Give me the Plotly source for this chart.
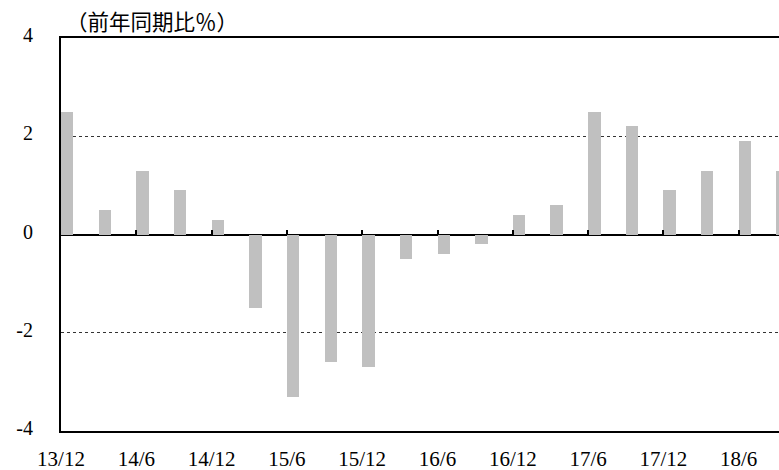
import plotly.graph_objects as go

# ---- data ----
categories = ["13/12", "14/3", "14/6", "14/9", "14/12", "15/3", "15/6", "15/9",
              "15/12", "16/3", "16/6", "16/9", "16/12", "17/3", "17/6", "17/9",
              "17/12", "18/3", "18/6", "18/9"]
values = [2.5, 0.5, 1.3, 0.9, 0.3, -1.5, -3.3, -2.6,
          -2.7, -0.5, -0.4, -0.2, 0.4, 0.6, 2.5, 2.2,
          0.9, 1.3, 1.9, 1.3]
x_tick_labels = ["13/12", "14/6", "14/12", "15/6", "15/12", "16/6",
                 "16/12", "17/6", "17/12", "18/6"]
y_tick_values = [-4, -2, 0, 2, 4]
y_tick_labels = ["-4", "-2", "0", "2", "4"]
unit_label = "（前年同期比％）"

x_pos = list(range(len(categories)))
x_tick_pos = [categories.index(t) for t in x_tick_labels]

FONT = "Liberation Serif, Noto Sans CJK JP, serif"

fig = go.Figure()
fig.add_trace(go.Bar(
    x=x_pos, y=values, offset=0, width=0.33,
    marker=dict(color="#c0c0c0", line=dict(width=0)),
    showlegend=False, hoverinfo="skip",
))
# empty trace to create the overlay axis carrying the zero-line tick marks
fig.add_trace(go.Scatter(x=[], y=[], xaxis="x2", yaxis="y", showlegend=False))

fig.update_layout(
    width=779, height=470,
    margin=dict(l=61, r=0, t=38, b=39, autoexpand=False),
    paper_bgcolor="white", plot_bgcolor="white",
    font=dict(family=FONT, size=20, color="black"),
    bargap=0,
    xaxis=dict(
        range=[0, 19.07], automargin=False,
        tickmode="array", tickvals=x_tick_pos, ticktext=x_tick_labels,
        ticks="", showgrid=False, zeroline=False,
        showline=True, linecolor="black", linewidth=2, mirror=True,
        ticklabelstandoff=8,
        tickfont=dict(family=FONT, size=21, color="black"),
    ),
    xaxis2=dict(
        overlaying="x", matches="x", anchor="free", position=0.5,
        automargin=False,
        tickmode="array", tickvals=x_tick_pos,
        ticks="inside", ticklen=5, tickwidth=2, tickcolor="black",
        showticklabels=False, showgrid=False, zeroline=False, showline=False,
    ),
    yaxis=dict(
        range=[-4, 4], automargin=False,
        tickmode="array", tickvals=y_tick_values, ticktext=y_tick_labels,
        ticks="", showline=True, linecolor="black", linewidth=2, mirror=False,
        showgrid=True, gridcolor="#333333", gridwidth=1, griddash="dot",
        zeroline=True, zerolinecolor="black", zerolinewidth=2,
        ticklabelstandoff=22, ticklabelshift=-3,
        tickfont=dict(family=FONT, size=20, color="black"),
    ),
    annotations=[dict(
        text=unit_label, xref="paper", yref="paper", x=0, y=1,
        xanchor="left", yanchor="middle", xshift=3, yshift=15,
        showarrow=False, font=dict(family=FONT, size=21.5, color="black"),
    )],
)

fig.write_html(
    "out.html",
    config={"displayModeBar": False},
    post_script="document.body.style.margin='0';document.body.style.overflow='hidden';",
)
